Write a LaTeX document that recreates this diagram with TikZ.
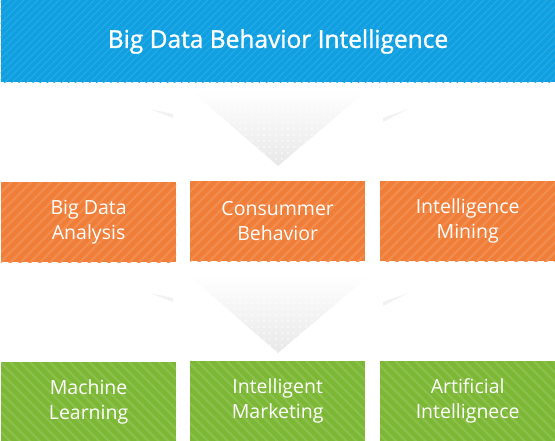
\documentclass[tikz,border=0pt]{standalone}
\usepackage{fontspec}
\setmainfont{Open Sans}
\newfontfamily\titlefont[FakeBold=1.3]{Open Sans}
\usetikzlibrary{patterns.meta}
\definecolor{bannerblue}{HTML}{10A0E2}
\definecolor{boxorange}{HTML}{F07E38}
\definecolor{boxgreen}{HTML}{7CB735}
\tikzset{
  box/.style={anchor=north west, minimum width=175pt, minimum height=80pt, inner sep=0pt,
    text=white, align=center, font=\fontsize{19.5}{25}\selectfont},
  orangebox/.style={box, preaction={fill=boxorange},
    pattern={Lines[angle=45,distance=7pt,line width=2.2pt]}, pattern color=boxorange!88!white},
  greenbox/.style={box, preaction={fill=boxgreen},
    pattern={Lines[angle=-45,distance=7pt,line width=2.2pt]}, pattern color=boxgreen!88!white},
  funnel/.style={top color=white, bottom color=black!9, draw=none},
  wing/.style={fill=black!5},
}
\begin{document}
\begin{tikzpicture}[x=1pt,y=-1pt]
  \useasboundingbox (0,0) rectangle (555,441);
  % banner
  \node[anchor=north west, minimum width=555pt, minimum height=82pt, inner sep=0pt,
    preaction={fill=bannerblue}, pattern={Lines[angle=45,distance=5pt,line width=1pt]},
    pattern color=bannerblue!90!white, text=white, font=\titlefont\fontsize{24.5}{28}\selectfont]
    (banner) at (0,0) {Big Data Behavior Intelligence};
  % first funnel
  \shade[funnel] (190,90) -- (368,90) -- (278,166) -- cycle;
  \fill[pattern={Dots[distance=6pt,radius=0.9pt]}, pattern color=white] (190,90) -- (368,90) -- (278,166) -- cycle;
  \fill[wing] (150,109) -- (173,114) -- (173,118) -- cycle;
  \fill[wing] (383,118) -- (408,109) -- (383,122) -- cycle;
  % middle row
  \node[orangebox] (bigdata) at (0,181) {Big Data\\Analysis};
  \node[orangebox] (consumer) at (190,181) {Consummer\\Behavior};
  \node[orangebox] (mining) at (380,181) {Intelligence\\Mining};
  % second funnel
  \shade[funnel] (188,275) -- (370,275) -- (278,353) -- cycle;
  \fill[pattern={Dots[distance=6pt,radius=0.9pt]}, pattern color=white] (188,275) -- (370,275) -- (278,353) -- cycle;
  \fill[wing] (150,293) -- (173,298) -- (173,302) -- cycle;
  \fill[wing] (383,302) -- (408,293) -- (383,306) -- cycle;
  % bottom row
  \node[greenbox] (machine) at (0,361) {Machine\\Learning};
  \node[greenbox] (marketing) at (190,361) {Intelligent\\Marketing};
  \node[greenbox] (ai) at (380,361) {Artificial\\Intellignece};
\end{tikzpicture}
\end{document}
